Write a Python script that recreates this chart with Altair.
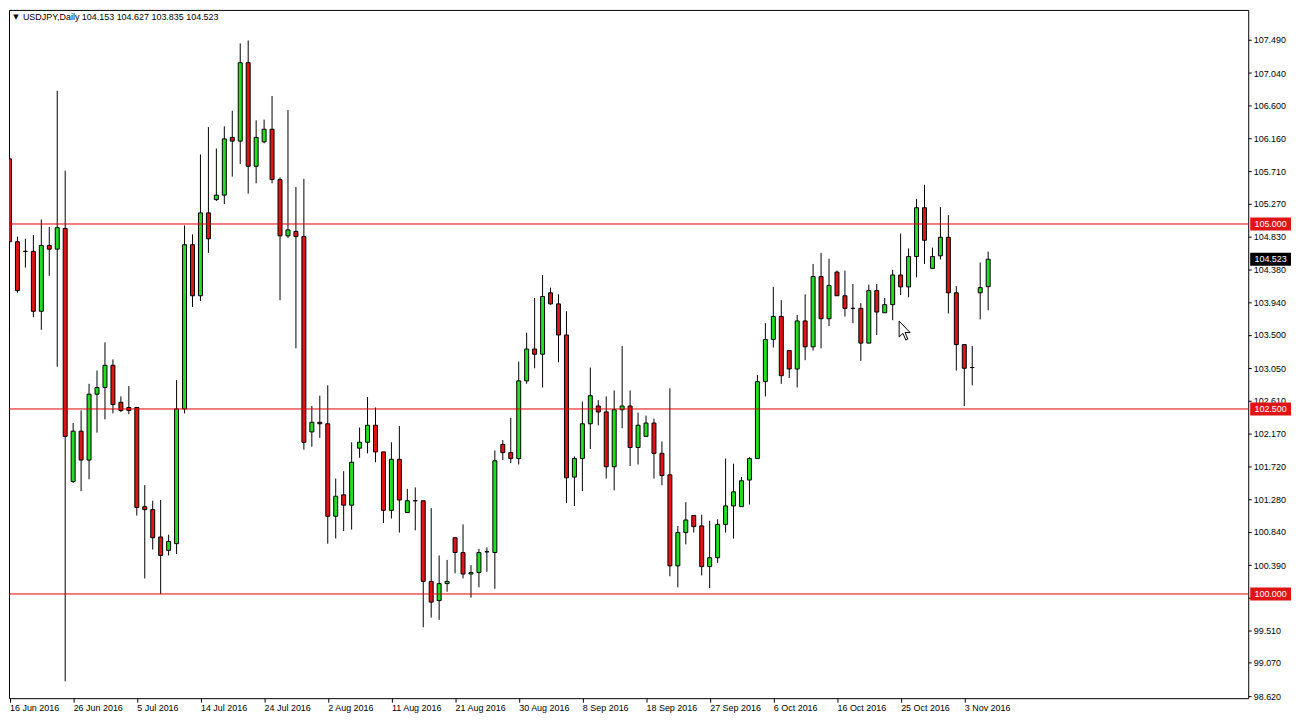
import altair as alt
import pandas as pd

# ---------------- data ----------------
opens = [105.88, 104.76, 104.63, 104.63, 103.82, 104.71, 104.66, 104.94, 101.52, 102.20,
         101.81, 102.70, 102.79, 103.09, 102.59, 102.52, 102.52, 101.18, 101.14, 100.77,
         100.59, 100.68, 102.50, 104.72, 104.03, 105.15, 105.33, 105.39, 106.17, 106.12,
         107.18, 105.78, 106.11, 106.28, 105.60, 104.84, 104.90, 104.83, 102.19, 102.32,
         102.30, 101.05, 101.34, 101.20, 101.97, 102.05, 102.28, 101.92, 101.13, 101.82,
         101.10, 101.26, 101.26, 100.17, 99.91, 100.14, 100.76, 100.56, 100.27, 100.29,
         100.57, 100.56, 102.02, 101.91, 101.83, 102.88, 103.31, 103.24, 104.07, 103.92,
         103.50, 101.58, 101.83, 102.30, 102.54, 102.46, 101.72, 102.49, 102.54, 101.98,
         102.13, 102.31, 101.90, 101.61, 100.38, 100.83, 101.06, 100.92, 100.37, 100.49,
         100.94, 101.19, 101.18, 101.54, 101.83, 102.87, 103.44, 103.75, 103.29, 103.04,
         103.69, 103.34, 104.29, 103.72, 104.35, 104.03, 103.86, 103.86, 103.39, 104.10,
         103.80, 103.91, 104.31, 104.15, 104.56, 105.22, 104.40, 104.57, 104.82, 104.07,
         103.37, 103.06, 104.07, 104.153]
highs = [105.95, 104.83, 104.80, 104.85, 105.06, 104.96, 106.80, 105.72, 102.31, 102.48,
         102.84, 103.02, 103.40, 103.17, 102.67, 102.81, 102.52, 101.47, 101.26, 101.27,
         100.80, 102.89, 104.98, 104.86, 105.94, 106.31, 106.02, 106.32, 106.53, 107.44,
         107.48, 106.40, 106.41, 106.73, 105.63, 106.54, 105.50, 105.61, 102.54, 102.68,
         102.82, 101.56, 101.66, 102.05, 102.25, 102.66, 102.52, 101.92, 102.05, 102.27,
         101.42, 101.44, 101.26, 101.16, 100.52, 100.46, 100.76, 100.94, 100.39, 100.61,
         100.63, 101.94, 102.08, 102.38, 103.14, 103.53, 104.00, 104.31, 104.14, 104.05,
         103.82, 101.86, 102.60, 103.06, 102.62, 102.67, 102.75, 103.35, 102.75, 102.45,
         102.41, 102.37, 102.06, 102.78, 100.92, 101.24, 101.06, 101.07, 100.99, 101.01,
         101.83, 101.76, 101.58, 101.85, 102.96, 103.66, 104.15, 103.97, 103.29, 103.77,
         104.05, 104.46, 104.61, 104.53, 104.37, 104.37, 104.19, 103.93, 104.18, 104.19,
         104.00, 104.38, 104.87, 104.67, 105.34, 105.53, 104.68, 105.23, 105.12, 104.16,
         103.37, 103.35, 104.48, 104.627]
lows = [103.54, 104.07, 104.41, 103.74, 103.57, 104.30, 103.07, 98.82, 101.50, 101.39,
        101.55, 102.18, 102.36, 102.44, 102.46, 102.43, 101.06, 100.21, 100.60, 100.00,
        100.52, 100.54, 102.44, 103.88, 103.96, 104.61, 105.31, 105.27, 105.64, 105.81,
        105.41, 105.55, 106.09, 105.55, 103.97, 104.81, 103.32, 101.95, 101.99, 102.11,
        100.68, 100.75, 100.85, 100.87, 101.84, 101.90, 101.78, 100.96, 101.02, 100.83,
        101.10, 100.86, 99.55, 99.68, 99.65, 100.03, 100.28, 100.21, 99.95, 100.09,
        100.30, 100.07, 101.81, 101.77, 101.75, 102.84, 103.05, 102.79, 103.91, 103.13,
        101.23, 101.19, 101.39, 101.96, 102.28, 101.56, 101.40, 102.24, 101.73, 101.75,
        102.13, 101.56, 101.47, 100.24, 100.09, 100.67, 100.83, 100.25, 100.08, 100.42,
        100.83, 100.75, 101.18, 101.21, 101.83, 102.67, 103.33, 102.84, 102.92, 102.79,
        103.16, 103.29, 103.32, 103.62, 104.03, 103.75, 103.66, 103.15, 103.39, 103.50,
        103.80, 103.70, 104.04, 104.01, 104.28, 104.46, 104.40, 104.52, 103.79, 103.02,
        102.54, 102.82, 103.71, 103.835]
closes = [104.76, 104.10, 104.63, 103.82, 104.71, 104.66, 104.95, 102.13, 102.20, 101.81,
          102.70, 102.79, 103.09, 102.56, 102.48, 102.48, 101.17, 101.14, 100.76, 100.52,
          100.71, 102.50, 104.72, 104.03, 105.15, 104.80, 105.39, 106.15, 106.12, 107.18,
          105.78, 106.17, 106.28, 105.60, 104.84, 104.92, 104.83, 102.05, 102.32, 102.30,
          101.05, 101.32, 101.20, 101.78, 102.05, 102.28, 101.92, 101.13, 101.82, 101.27,
          101.26, 101.26, 100.17, 99.89, 100.14, 100.17, 100.56, 100.27, 100.29, 100.56,
          100.57, 101.80, 101.91, 101.83, 102.88, 103.31, 103.24, 104.02, 103.92, 103.50,
          101.57, 101.83, 102.30, 102.68, 102.46, 101.72, 102.49, 102.54, 101.98, 102.28,
          102.31, 101.90, 101.60, 100.38, 100.83, 101.00, 100.91, 100.37, 100.49, 100.94,
          101.19, 101.38, 101.53, 101.83, 102.87, 103.44, 103.75, 102.95, 103.04, 103.69,
          103.34, 104.29, 103.72, 104.17, 104.03, 103.86, 103.86, 103.39, 104.10, 103.81,
          103.91, 104.31, 104.15, 104.56, 105.22, 104.78, 104.56, 104.82, 104.07, 103.37,
          103.05, 103.06, 104.14, 104.523]

tick_labels = ["16 Jun 2016", "26 Jun 2016", "5 Jul 2016", "14 Jul 2016", "24 Jul 2016",
               "2 Aug 2016", "11 Aug 2016", "21 Aug 2016", "30 Aug 2016", "8 Sep 2016",
               "18 Sep 2016", "27 Sep 2016", "6 Oct 2016", "16 Oct 2016", "25 Oct 2016",
               "3 Nov 2016"]
y_ticks = [107.490, 107.040, 106.600, 106.160, 105.710, 105.270, 104.830, 104.380,
           103.940, 103.500, 103.050, 102.610, 102.170, 101.720, 101.280, 100.840,
           100.390, 99.950, 99.510, 99.070, 98.620]
hidden_tick = 99.950   # its label sits under the 100.000 marker in the reference
levels = [105.000, 102.500, 100.000]
last_price = 104.523
title_text = "USDJPY,Daily 104.153 104.627 103.835 104.523"
cursor_k = [112.5]
cursor_p = [103.56]

# ---------------- layout ----------------
W, H = 1246, 692
YDOM = [98.592, 107.893]
XDOM = [-0.0625, 155.6875]
FONT = "Liberation Sans"
GREEN = "#22dd22"
RED = "#e01414"
LINE_RED = "#e00000"

n = len(opens)
df = pd.DataFrame({"k": list(range(n)), "open": opens, "high": highs,
                   "low": lows, "close": closes})
df["dir"] = ["up" if c > o else ("down" if c < o else "flat")
             for o, c in zip(df["open"], df["close"])]

xs = alt.Scale(domain=XDOM, nice=False, zero=False, padding=0)
ys = alt.Scale(domain=YDOM, nice=False, zero=False, padding=0)

js_labels = "[" + ",".join("'" + s + "'" for s in tick_labels) + "]"
x_axis = alt.Axis(values=list(range(0, 8 * len(tick_labels), 8)),
                  labelExpr=js_labels + "[round(datum.value/8)]",
                  tickSize=4, labelPadding=1, labelAlign="left", labelFlush=False,
                  domain=False, grid=False, title=None, labelFont=FONT,
                  labelFontSize=9, labelColor="#000", tickColor="#000",
                  labelOverlap=False)
y_axis = alt.Axis(orient="right", values=y_ticks,
                  labelExpr="abs(datum.value - %f) < 0.0005 ? '' : format(datum.value, '.3f')" % hidden_tick,
                  tickSize=3, labelPadding=2, domain=False, grid=False, title=None,
                  labelFont=FONT, labelFontSize=9, labelColor="#000",
                  tickColor="#000", labelOverlap=False, labelFlush=False)

base = alt.Chart(df)

wicks = base.mark_rule(color="black", strokeWidth=1, clip=True).encode(
    x=alt.X("k:Q", scale=xs, axis=x_axis),
    y=alt.Y("low:Q", scale=ys, axis=y_axis),
    y2="high:Q",
)

bodies = base.mark_bar(size=4, stroke="black", strokeWidth=1, clip=True).encode(
    x=alt.X("k:Q", scale=xs, axis=x_axis),
    y=alt.Y("open:Q", scale=ys, axis=y_axis),
    y2="close:Q",
    color=alt.Color("dir:N", scale=alt.Scale(domain=["up", "down", "flat"],
                                             range=[GREEN, RED, "black"]),
                    legend=None),
)

lv = pd.DataFrame({"p": levels})
hlines = alt.Chart(lv).mark_rule(color=LINE_RED, strokeWidth=1).encode(
    y=alt.Y("p:Q", scale=ys, axis=y_axis)
)

half = 6.5 * (YDOM[1] - YDOM[0]) / H
boxes_df = pd.DataFrame({"p": levels + [last_price],
                         "bg": [RED, RED, RED, "black"]})
boxes = alt.Chart(boxes_df).transform_calculate(
    top="datum.p + %f" % half, bot="datum.p - %f" % half
).mark_rect().encode(
    x=alt.value(W + 2), x2=alt.value(W + 43),
    y=alt.Y("top:Q", scale=ys, axis=y_axis), y2="bot:Q",
    color=alt.Color("bg:N", scale=None),
)
box_text = alt.Chart(boxes_df).mark_text(color="white", font=FONT, fontSize=9,
                                         align="center", baseline="middle").encode(
    x=alt.value(W + 22.5),
    y=alt.Y("p:Q", scale=ys, axis=y_axis),
    text=alt.Text("p:Q", format=".3f"),
)

title_df = pd.DataFrame({"t": [title_text], "tri": ["\u25bc"]})
title = alt.Chart(title_df).mark_text(align="left", baseline="middle", font=FONT,
                                      fontSize=9, color="black").encode(
    x=alt.value(14), y=alt.value(7), text="t:N")
tri = alt.Chart(title_df).mark_text(align="center", baseline="middle",
                                    font="DejaVu Sans", fontSize=7,
                                    color="black").encode(
    x=alt.value(7), y=alt.value(7), text="tri:N")

cur_df = pd.DataFrame({"k": cursor_k, "p": cursor_p})
cursor_path = "M-0.55,-0.95L-0.55,0.65L-0.17,0.28L0.12,0.95L0.32,0.86L0.05,0.2L0.55,0.2Z"
cursor = alt.Chart(cur_df).mark_point(shape=cursor_path, size=400, filled=True,
                                      fill="white", stroke="black", strokeWidth=1,
                                      opacity=1).encode(
    x=alt.X("k:Q", scale=xs, axis=x_axis),
    y=alt.Y("p:Q", scale=ys, axis=y_axis),
)

chart = alt.layer(wicks, bodies, hlines, boxes, box_text, title, tri, cursor).properties(
    width=W, height=H, padding=0, background="white"
).configure_view(stroke="black", strokeWidth=1)

chart.save("out.html", embed_options={"renderer": "svg", "actions": False})
